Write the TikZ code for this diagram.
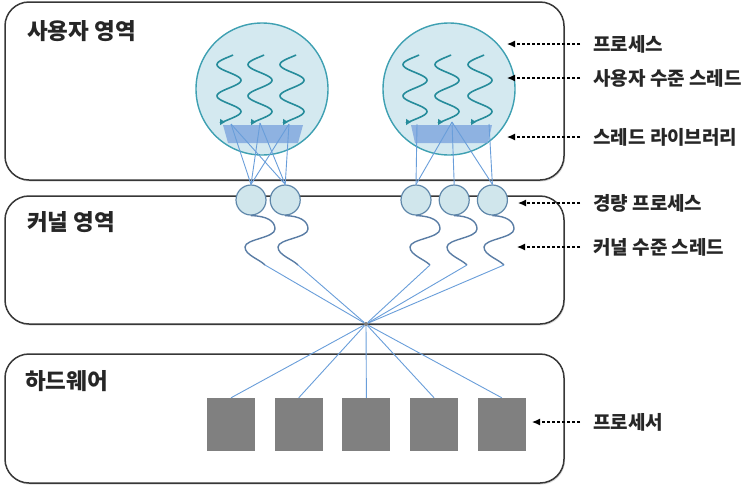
\documentclass[tikz,border=0pt]{standalone}
\usepackage{fontspec}
\newfontfamily\kr{Noto Sans CJK KR}
\usetikzlibrary{positioning, arrows.meta, shadows}
\definecolor{frame}{RGB}{55,55,55}
\definecolor{procfill}{RGB}{212,233,240}
\definecolor{procedge}{RGB}{62,160,178}
\definecolor{uthread}{RGB}{38,140,155}
\definecolor{libfill}{RGB}{125,165,222}
\definecolor{link}{RGB}{105,158,218}
\definecolor{lwpfill}{RGB}{208,230,236}
\definecolor{lwpedge}{RGB}{95,135,170}
\definecolor{kthread}{RGB}{90,125,165}
\definecolor{cpu}{RGB}{128,128,128}
\tikzstyle{region}=[rectangle, rounded corners=24pt, draw=frame, line width=1.5pt, fill=white, minimum width=559pt, inner sep=0pt, drop shadow={shadow xshift=1pt, shadow yshift=-1.5pt, opacity=.3}]
\tikzstyle{regionname}=[anchor=west, inner sep=0pt, text=black!85, font=\kr\bfseries\fontsize{22.5}{26}\selectfont]
\tikzstyle{process}=[circle, minimum size=132pt, inner sep=0pt, draw=procedge, fill=procfill, line width=1.4pt]
\tikzstyle{lwp}=[circle, minimum size=30pt, inner sep=0pt, draw=lwpedge, fill=lwpfill, line width=1.2pt]
\tikzstyle{processor}=[rectangle, minimum width=48pt, minimum height=53pt, inner sep=0pt, fill=cpu]
\tikzstyle{hubdot}=[circle, minimum size=4pt, inner sep=0pt, fill=cpu]
\tikzstyle{note}=[anchor=west, inner sep=0pt, text=black!85, font=\kr\bfseries\fontsize{19}{22}\selectfont]
\tikzstyle{pointer}=[black, line width=1.1pt, dash pattern=on 3pt off 2pt, -{Latex[length=8pt,width=7pt]}, shorten <=13pt]
\tikzstyle{uline}=[uthread, line width=1.6pt, -{Triangle[reversed,length=5pt,width=6pt]}]
\tikzstyle{klink}=[link, line width=.9pt]
\tikzstyle{kline}=[kthread, line width=1.4pt]

\begin{document}
\begin{tikzpicture}[x=1pt, y=-1pt]
    \useasboundingbox (0,0) rectangle (743,488);
    % three regions
    \node[region, minimum height=178pt](user) at (284.5,91){};
    \node[region, minimum height=128pt](kernel) at (284.5,260){};
    \node[region, minimum height=129pt](hw) at (284.5,418.5){};
    \node[regionname] at (27,31){사용자 영역};
    \node[regionname] at (27,222){커널 영역};
    \node[regionname] at (25,381){하드웨어};

    % processes with user threads
    \node[process](procA) at (262,89){};
    \node[process](procB) at (449,89){};
    \foreach \cx in {229,260,292,415,447,480}{
        \draw[uline] plot[domain=160:930, samples=70] ({\cx+12*sin(\x)}, {55+(\x-160)*0.087}) -- ++(-3,0);
    }
    \fill[libfill, opacity=.8] (223,125) -- (303,125) -- (298,143) -- (228,143) -- cycle;
    \fill[libfill, opacity=.8] (411,125) -- (492,125) -- (488,143) -- (415,143) -- cycle;
    \coordinate (tA1) at (231,124);
    \coordinate (tA2) at (260,123);
    \coordinate (tA3) at (289,124);
    \coordinate (tB1) at (417,124);
    \coordinate (tB2) at (452,122);
    \coordinate (tB3) at (489,124);

    % light-weight processes
    \node[lwp](lA1) at (251,200){};
    \node[lwp, right=3pt of lA1](lA2){};
    \node[lwp](lB1) at (416,200){};
    \node[lwp, right=7pt of lB1](lB2){};
    \node[lwp, right=7pt of lB2](lB3){};
    \foreach \t in {tA1,tA2,tA3}{
        \draw[klink] (\t) to (lA1.north);
        \draw[klink] (\t) to (lA2.north);
    }
    \draw[klink] (tB1) to (lB1.north);
    \draw[klink] (tB2) to (lB1.north);
    \draw[klink] (tB2) to (lB2.north);
    \draw[klink] (tB2) to (lB3.north);
    \draw[klink] (tB3) to (lB3.north);

    % kernel threads and processors
    \node[hubdot](hub) at (366,324){};
    \node[processor](p1) at (231,424.5){};
    \foreach \n in {2,...,5}{
        \pgfmathtruncatemacro\nmm{\n -1}
        \node[processor, right=19.3pt of p\nmm](p\n){};
        \draw[klink] (hub) to (p\n.north);
    }
    \draw[klink] (hub) to (p1.north);
    \foreach \n/\cx in {lA1/251, lA2/284, lB1/416, lB2/453, lB3/490}{
        \draw[kline] (\n.south) .. controls (\cx+16,216) and (\cx+24,221) .. (\cx+24,229)
            .. controls (\cx+24,238) and (\cx-6,239) .. (\cx-6,247)
            .. controls (\cx-6,255) and (\cx+8,259) .. (\cx+14,265);
        \draw[klink] (\cx+14,265) to (hub);
    }

    % notes on the right
    \node[note](nProc) at (593,44){프로세스};
    \node[note](nUser) at (593,78){사용자 수준 스레드};
    \node[note](nLib) at (593,137){스레드 라이브러리};
    \node[note](nLwp) at (593,203){경량 프로세스};
    \node[note](nKern) at (593,247){커널 수준 스레드};
    \node[note](nCpu) at (593,422){프로세서};
    \coordinate (aProc) at (507,44);
    \coordinate (aUser) at (507,78);
    \coordinate (aLib) at (507,137);
    \coordinate (aLwp) at (518,203);
    \coordinate (aKern) at (517,247);
    \coordinate (aCpu) at (532,422);
    \foreach \a in {Proc,User,Lib,Lwp,Kern,Cpu}
        \draw[pointer] (n\a) to (a\a);
\end{tikzpicture}
\end{document}
